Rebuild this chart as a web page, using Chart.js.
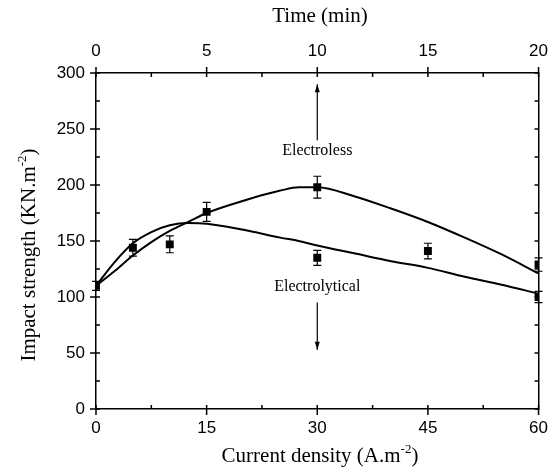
<!DOCTYPE html>
<html><head><meta charset="utf-8">
<script src="https://cdn.jsdelivr.net/npm/chart.js@4"></script>
<style>html,body{margin:0;padding:0;background:#fff}#wrap{width:559px;height:467px}</style>
</head><body><div id="wrap"><canvas id="c" width="559" height="467"></canvas></div>
<script>
// ---- data ----
const curveX = [0, 2.5, 5, 7.5, 10, 12.5, 15, 20, 25, 27.5, 30, 35, 40, 45, 50, 55, 60];
const electrolessFit = [110, 123, 137, 149, 159, 167, 175, 186, 195, 198, 198, 190, 179, 167, 153, 138, 121];
const electrolyticalFit = [110, 131, 148, 158, 164, 166, 165.5, 160, 153, 150, 146, 139, 132, 126, 118, 111, 103];
const pointX = [0, 5, 10, 15, 30, 30, 45, 60, 60];
const pointY = [110, 144, 147, 176, 198, 135, 141, 129, 100];
const pointErr = [4, 7.5, 7.5, 8.5, 9.8, 6.7, 7, 6, 5];
const bottomTicks = [0, 15, 30, 45, 60];
const topTicks = [0, 5, 10, 15, 20];
const yTicks = [0, 50, 100, 150, 200, 250, 300];

const SERIF = '"Liberation Serif", "Times New Roman", serif';
const SANS = '"Liberation Sans", Arial, sans-serif';

// annotation placement (data coordinates of bottom x / left y)
const notes = [
  {text: 'Electroless', x: 30, y: 230.5, arrowFrom: 240, arrowTo: 290},
  {text: 'Electrolytical', x: 30, y: 109.5, arrowFrom: 95, arrowTo: 53}
];

function drawRich(ctx, segs, size, x, y) {
  const subSize = Math.round(size * 0.62);
  let total = 0;
  segs.forEach(s => { ctx.font = (s.sup ? subSize : size) + 'px ' + SERIF; s.w = ctx.measureText(s.t).width; total += s.w; });
  let cx = x - total / 2;
  ctx.textAlign = 'left'; ctx.textBaseline = 'alphabetic';
  segs.forEach(s => {
    ctx.font = (s.sup ? subSize : size) + 'px ' + SERIF;
    ctx.fillText(s.t, cx, s.sup ? y - size * 0.42 : y);
    cx += s.w;
  });
}

const decor = {
  id: 'decor',
  beforeDatasetsDraw(chart) {
    const ctx = chart.ctx, xs = chart.scales.x, ys = chart.scales.y;
    ctx.save(); ctx.strokeStyle = '#000'; ctx.lineWidth = 1.2;
    pointX.forEach((v, i) => {
      const px = xs.getPixelForValue(v);
      const p1 = ys.getPixelForValue(pointY[i] + pointErr[i]);
      const p2 = ys.getPixelForValue(pointY[i] - pointErr[i]);
      ctx.beginPath();
      ctx.moveTo(px, p1); ctx.lineTo(px, p2);
      ctx.moveTo(px - 4, p1); ctx.lineTo(px + 4, p1);
      ctx.moveTo(px - 4, p2); ctx.lineTo(px + 4, p2);
      ctx.stroke();
    });
    ctx.restore();
  },
  afterDatasetsDraw(chart) {
    const ctx = chart.ctx, a = chart.chartArea;
    const xs = chart.scales.x, x2 = chart.scales.x2, ys = chart.scales.y;
    ctx.save(); ctx.strokeStyle = '#000'; ctx.lineWidth = 1.5;
    ctx.beginPath();
    // bottom axis ticks
    for (let v = 0; v <= 60; v += 7.5) {
      const px = xs.getPixelForValue(v);
      const major = v % 15 === 0;
      ctx.moveTo(px, a.bottom + (major ? 6 : 0)); ctx.lineTo(px, a.bottom - (major ? 4 : 4));
    }
    // top axis ticks
    for (let v = 0; v <= 20; v += 2.5) {
      const px = x2.getPixelForValue(v);
      const major = v % 5 === 0;
      ctx.moveTo(px, a.top - (major ? 6 : 0)); ctx.lineTo(px, a.top + 4);
    }
    // left & right ticks
    for (let v = 0; v <= 300; v += 25) {
      const py = ys.getPixelForValue(v);
      const major = v % 50 === 0;
      ctx.moveTo(a.left - (major ? 6 : 0), py); ctx.lineTo(a.left + 4, py);
      ctx.moveTo(a.right, py); ctx.lineTo(a.right - 4, py);
    }
    ctx.stroke();
    // annotations
    ctx.fillStyle = '#000'; ctx.lineWidth = 1.2;
    notes.forEach(n => {
      const px = xs.getPixelForValue(n.x);
      ctx.font = '16px ' + SERIF; ctx.textAlign = 'center'; ctx.textBaseline = 'middle';
      ctx.fillText(n.text, px, ys.getPixelForValue(n.y));
      const yf = ys.getPixelForValue(n.arrowFrom), yt = ys.getPixelForValue(n.arrowTo);
      ctx.beginPath(); ctx.moveTo(px, yf); ctx.lineTo(px, yt); ctx.stroke();
      const dir = yt < yf ? 1 : -1;
      ctx.beginPath(); ctx.moveTo(px, yt); ctx.lineTo(px - 2.5, yt + dir * 8); ctx.lineTo(px + 2.5, yt + dir * 8); ctx.closePath(); ctx.fill();
    });
    ctx.restore();
  },
  afterDraw(chart) {
    const ctx = chart.ctx;
    ctx.save(); ctx.fillStyle = '#000';
    drawRich(ctx, [{t: 'Time (min)'}], 21, 320, 22);
    drawRich(ctx, [{t: 'Current density (A.m'}, {t: '-2', sup: true}, {t: ')'}], 21, 320, 462);
    ctx.translate(35, 255); ctx.rotate(-Math.PI / 2);
    drawRich(ctx, [{t: 'Impact strength (KN.m'}, {t: '-2', sup: true}, {t: ')'}], 21, 0, 0);
    ctx.restore();
  }
};

const tickFont = {family: SANS, size: 17};
const noGrid = {display: false, drawTicks: false};
const border = {display: true, color: '#000', width: 1.5};

new Chart(document.getElementById('c'), {
  type: 'scatter',
  data: {
    datasets: [
      {label: 'Electroless fit', data: curveX.map((x, i) => ({x, y: electrolessFit[i]})), showLine: true, borderColor: '#000', borderWidth: 2, pointRadius: 0, cubicInterpolationMode: 'monotone', fill: false},
      {label: 'Electrolytical fit', data: curveX.map((x, i) => ({x, y: electrolyticalFit[i]})), showLine: true, borderColor: '#000', borderWidth: 2, pointRadius: 0, cubicInterpolationMode: 'monotone', fill: false},
      {label: 'Measured', data: pointX.map((x, i) => ({x, y: pointY[i]})), showLine: false, pointStyle: 'rect', pointRadius: 5.6, backgroundColor: '#000', borderColor: '#000', borderWidth: 0}
    ]
  },
  options: {
    responsive: false, animation: false, devicePixelRatio: 1,
    layout: {padding: 0},
    plugins: {legend: {display: false}, tooltip: {enabled: false}},
    scales: {
      x: {type: 'linear', position: 'bottom', min: 0, max: 60, afterBuildTicks: s => { s.ticks = bottomTicks.map(v => ({value: v})); },
        ticks: {font: tickFont, color: '#000', padding: 9, maxRotation: 0}, grid: noGrid, border, afterFit: s => { s.height = 58; }},
      x2: {type: 'linear', position: 'top', min: 0, max: 20, afterBuildTicks: s => { s.ticks = topTicks.map(v => ({value: v})); },
        ticks: {font: tickFont, color: '#000', padding: 11, maxRotation: 0}, grid: noGrid, border, afterFit: s => { s.height = 73; }},
      y: {type: 'linear', position: 'left', min: 0, max: 300, afterBuildTicks: s => { s.ticks = yTicks.map(v => ({value: v})); },
        ticks: {font: tickFont, color: '#000', padding: 11}, grid: noGrid, border, afterFit: s => { s.width = 96; }},
      y2: {type: 'linear', position: 'right', min: 0, max: 300, ticks: {display: false}, grid: noGrid, border, afterFit: s => { s.width = 16; }}
    }
  },
  plugins: [decor]
});
</script>
</body></html>
